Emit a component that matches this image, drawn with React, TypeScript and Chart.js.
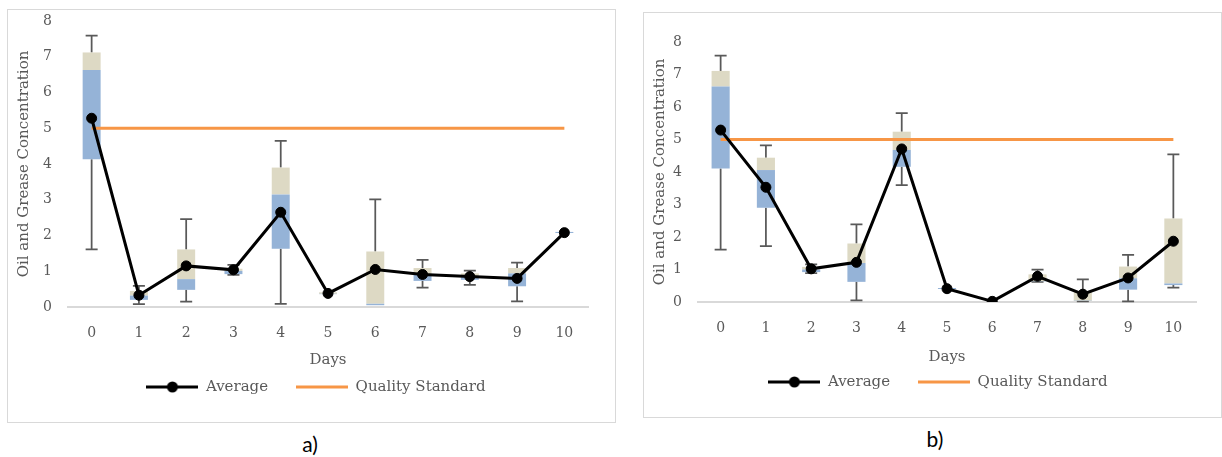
import React, { useEffect, useRef } from 'react';
import { Chart, registerables } from 'chart.js';

Chart.register(...registerables);

// ---- data -------------------------------------------------------------
const days = ['0', '1', '2', '3', '4', '5', '6', '7', '8', '9', '10'];
const qualityStandard = [5, 5, 5, 5, 5, 5, 5, 5, 5, 5, 5];

// a) oil and grease concentration per day: five-number summary + mean
const averageA = [5.28, 0.33, 1.15, 1.04, 2.65, 0.38, 1.05, 0.91, 0.85, 0.8, 2.08];
const minA = [1.61, 0.08, 0.15, 0.9, 0.09, 0.36, 0.05, 0.54, 0.62, 0.16, 2.07];
const q1A = [4.13, 0.2, 0.48, 0.92, 1.63, 0.36, 0.05, 0.73, 0.76, 0.58, 2.07];
const medianA = [6.63, 0.32, 0.78, 1.01, 3.15, 0.37, 0.09, 0.92, 0.85, 0.94, 2.1];
const q3A = [7.12, 0.45, 1.61, 1.07, 3.9, 0.41, 1.55, 1.09, 0.94, 1.09, 2.1];
const maxA = [7.59, 0.59, 2.46, 1.18, 4.65, 0.41, 3.01, 1.32, 1.02, 1.24, 2.1];

// b)
const averageB = [5.29, 3.53, 1.02, 1.22, 4.71, 0.41, 0.02, 0.79, 0.24, 0.74, 1.87];
const minB = [1.61, 1.72, 0.89, 0.05, 3.6, 0.4, 0, 0.62, 0.02, 0.02, 0.44];
const q1B = [4.11, 2.9, 0.92, 0.62, 4.16, 0.4, 0, 0.63, 0.03, 0.38, 0.52];
const medianB = [6.63, 4.06, 1.0, 1.2, 4.68, 0.43, 0, 0.64, 0.04, 0.73, 0.57];
const q3B = [7.11, 4.44, 1.08, 1.8, 5.24, 0.43, 0, 0.85, 0.33, 1.09, 2.57];
const maxB = [7.58, 4.82, 1.16, 2.39, 5.81, 0.43, 0, 1.0, 0.7, 1.45, 4.54];

// ---- styling ----------------------------------------------------------
const INK = '#595959';
const BLUE = '#95B3D7';
const TAN = '#DDD9C4';
const ORANGE = '#F79646';
const RULE = '#D9D9D9';

Chart.defaults.font.family = "'DejaVu Serif', serif";
Chart.defaults.color = INK;

type Series = {
  average: number[];
  min: number[];
  q1: number[];
  median: number[];
  q3: number[];
  max: number[];
};

type Frame = {
  left: number;
  top: number;
  width: number;
  height: number;
  padTop: number;
  padRight: number;
  padBottom: number;
  yAxisWidth: number;
  xAxisHeight: number;
  daysPad: number;
  legendShift: number;
  barPct: number;
};

// line sample with an optional marker, used as the legend symbol
function legendSwatch(color: string, withDot: boolean): HTMLCanvasElement {
  const c = document.createElement('canvas');
  c.width = 52;
  c.height = 12;
  const g = c.getContext('2d')!;
  g.strokeStyle = color;
  g.lineWidth = 3;
  g.beginPath();
  g.moveTo(0, 6);
  g.lineTo(52, 6);
  g.stroke();
  if (withDot) {
    g.fillStyle = color;
    g.beginPath();
    g.arc(26, 6, 5.5, 0, Math.PI * 2);
    g.fill();
  }
  return c;
}

// whiskers: Q1 -> min and Q3 -> max, capped at the far end
function whiskerPlugin(s: Series) {
  return {
    id: 'whiskers',
    beforeDatasetsDraw(chart: any) {
      const { ctx } = chart;
      const x = chart.scales.x;
      const y = chart.scales.y;
      const cap = 12;
      ctx.save();
      ctx.strokeStyle = INK;
      ctx.lineWidth = 1.75;
      const seg = (px: number, from: number, to: number) => {
        if (from === to) return;
        const y0 = y.getPixelForValue(from);
        const y1 = y.getPixelForValue(to);
        ctx.beginPath();
        ctx.moveTo(px, y0);
        ctx.lineTo(px, y1);
        ctx.moveTo(px - cap / 2, y1);
        ctx.lineTo(px + cap / 2, y1);
        ctx.stroke();
      };
      s.min.forEach((lo, i) => {
        const px = x.getPixelForValue(i);
        seg(px, s.q1[i], lo);
        seg(px, s.q3[i], s.max[i]);
      });
      ctx.restore();
    },
  };
}

// slide the legend row sideways after layout
function legendNudge(dx: number) {
  return {
    id: 'legendNudge',
    afterLayout(chart: any) {
      const lg = chart.legend;
      if (lg) {
        lg.left += dx;
        lg.right += dx;
      }
    },
  };
}

function BoxPanel({ series, frame }: { series: Series; frame: Frame }) {
  const ref = useRef<HTMLCanvasElement>(null);

  useEffect(() => {
    const canvas = ref.current;
    if (!canvas) return;
    const swatches: Record<string, HTMLCanvasElement> = {
      Average: legendSwatch('#000000', true),
      'Quality Standard': legendSwatch(ORANGE, false),
    };

    const chart = new Chart(canvas, {
      type: 'bar',
      data: {
        labels: days,
        datasets: [
          {
            type: 'line',
            label: 'Average',
            data: series.average,
            borderColor: '#000000',
            backgroundColor: '#000000',
            borderWidth: 3,
            pointRadius: 5,
            pointBorderWidth: 1,
            pointBackgroundColor: '#000000',
            pointBorderColor: '#000000',
            tension: 0,
            order: 0,
          },
          {
            type: 'line',
            label: 'Quality Standard',
            data: qualityStandard,
            borderColor: ORANGE,
            backgroundColor: ORANGE,
            borderWidth: 3,
            pointRadius: 0,
            tension: 0,
            order: 1,
          },
          {
            type: 'bar',
            label: 'Q1–Median',
            data: series.q1.map((v, i) => [v, series.median[i]]),
            backgroundColor: BLUE,
            borderWidth: 0,
            grouped: false,
            barPercentage: frame.barPct,
            categoryPercentage: 1,
            order: 2,
          },
          {
            type: 'bar',
            label: 'Median–Q3',
            data: series.median.map((v, i) => [v, series.q3[i]]),
            backgroundColor: TAN,
            borderWidth: 0,
            grouped: false,
            barPercentage: frame.barPct,
            categoryPercentage: 1,
            order: 2,
          },
        ] as any,
      },
      options: {
        responsive: false,
        animation: false,
        layout: {
          padding: { top: frame.padTop, right: frame.padRight, left: 0, bottom: frame.padBottom },
        },
        plugins: {
          tooltip: { enabled: false },
          legend: {
            position: 'bottom',
            fullSize: false,
            labels: {
              usePointStyle: true,
              pointStyleWidth: 52,
              padding: 28,
              color: INK,
              font: { size: 15 },
              generateLabels: (c: any) =>
                c.data.datasets
                  .map((ds: any, i: number) => ({ ds, i }))
                  .filter(({ ds }: any) => ds.type === 'line')
                  .map(({ ds, i }: any) => ({
                    text: ds.label,
                    datasetIndex: i,
                    pointStyle: swatches[ds.label],
                    fillStyle: ds.borderColor,
                    strokeStyle: ds.borderColor,
                    lineWidth: 0,
                    hidden: false,
                    fontColor: INK,
                  })),
            },
          },
        },
        scales: {
          x: {
            offset: true,
            grid: { display: false, drawTicks: false },
            border: { display: true, color: RULE, width: 2 },
            ticks: { color: INK, font: { size: 14 }, padding: 18, maxRotation: 0 },
            title: {
              display: true,
              text: 'Days',
              color: INK,
              font: { size: 15 },
              padding: { top: 0, bottom: frame.daysPad },
            },
            afterFit: (s: any) => {
              s.height = frame.xAxisHeight;
            },
          },
          y: {
            min: 0,
            max: 8,
            // tick marks hidden; their length only spaces the labels off the plot
            grid: { display: false, drawTicks: true, tickLength: 16 },
            border: { display: false },
            ticks: { stepSize: 1, color: INK, font: { size: 14 }, padding: 0 },
            title: {
              display: true,
              text: 'Oil and Grease Concentration',
              color: INK,
              font: { size: 15 },
              padding: { top: 7, bottom: 0 },
            },
            afterFit: (s: any) => {
              s.width = frame.yAxisWidth;
            },
          },
        },
      } as any,
      plugins: [whiskerPlugin(series), legendNudge(frame.legendShift)],
    });

    return () => chart.destroy();
  }, [series, frame]);

  return (
    <div
      style={{
        position: 'absolute',
        left: frame.left,
        top: frame.top,
        width: frame.width,
        height: frame.height,
        border: `1px solid ${RULE}`,
        boxSizing: 'border-box',
        background: '#ffffff',
      }}
    >
      <canvas
        ref={ref}
        width={frame.width - 2}
        height={frame.height - 2}
        style={{ display: 'block' }}
      />
    </div>
  );
}

const seriesA: Series = { average: averageA, min: minA, q1: q1A, median: medianA, q3: q3A, max: maxA };
const seriesB: Series = { average: averageB, min: minB, q1: q1B, median: medianB, q3: q3B, max: maxB };

const frameA: Frame = {
  left: 7, top: 9, width: 609, height: 414,
  padTop: 11, padRight: 27, padBottom: 17.5, yAxisWidth: 60, xAxisHeight: 44.5,
  daysPad: -17.5, legendShift: -12, barPct: 0.38,
};
const frameB: Frame = {
  left: 643, top: 12, width: 579, height: 406,
  padTop: 29, padRight: 25, padBottom: 17.5, yAxisWidth: 54, xAxisHeight: 44.5,
  daysPad: -19.5, legendShift: -9, barPct: 0.4,
};

const captionStyle: React.CSSProperties = {
  position: 'absolute',
  textAlign: 'center',
  fontFamily: "Lato, 'Liberation Sans', sans-serif",
  fontSize: 21,
  lineHeight: '24px',
  color: '#000000',
};

export default function App() {
  return (
    <div
      style={{
        position: 'absolute',
        left: 0,
        top: 0,
        width: 1222,
        height: 457,
        overflow: 'hidden',
        background: '#ffffff',
      }}
    >
      <BoxPanel series={seriesA} frame={frameA} />
      <BoxPanel series={seriesB} frame={frameB} />
      <div style={{ ...captionStyle, left: 0, width: 620, top: 432 }}>a)</div>
      <div style={{ ...captionStyle, left: 625, width: 620, top: 427 }}>b)</div>
    </div>
  );
}
